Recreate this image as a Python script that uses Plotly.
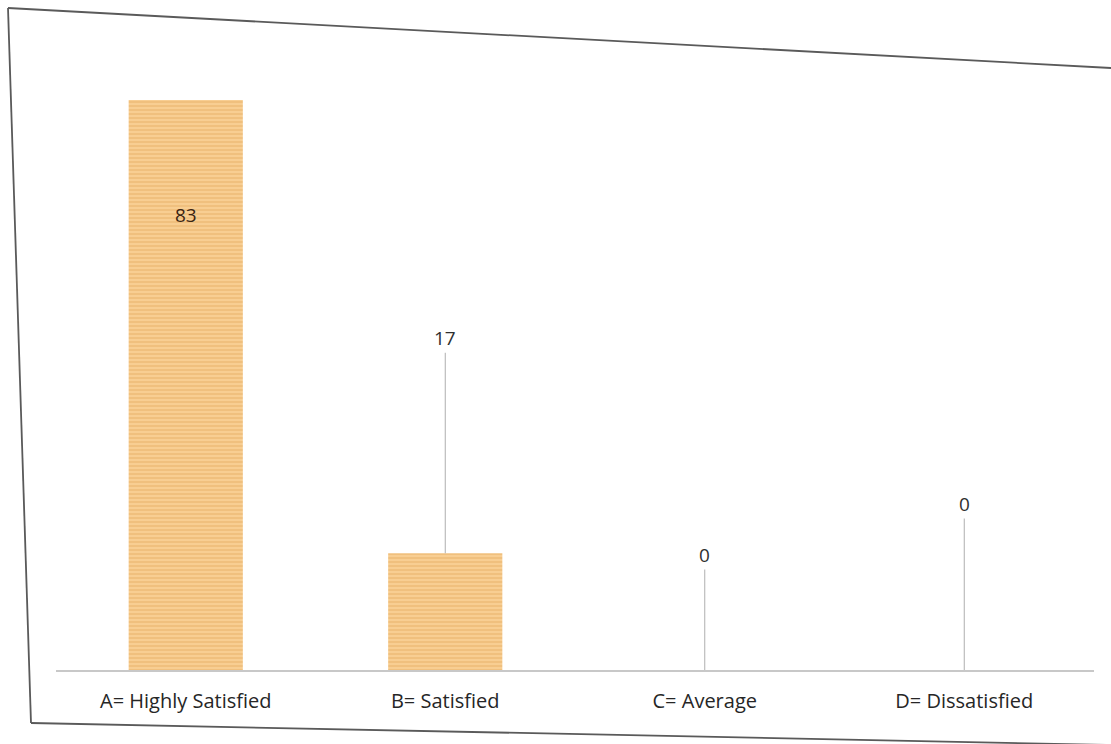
import plotly.graph_objects as go

categories = ["A= Highly Satisfied", "B= Satisfied", "C= Average", "D= Dissatisfied"]
values = [83, 17, 0, 0]
label_offsets = [-115, -215, -115, -166]  # pixel offsets of the data labels

W, H = 1111, 744
fig = go.Figure()
fig.add_trace(go.Bar(
    x=categories, y=values, width=0.44,
    marker=dict(color="#F8CE92",
                line=dict(color="#DDA45A", width=0),
                pattern=dict(shape="-", fgcolor="#E2A658", size=4, solidity=0.35, fillmode="overlay")),
    hoverinfo="skip", showlegend=False,
))

for i, (c, v) in enumerate(zip(categories, values)):
    if i == 0:
        fig.add_annotation(x=c, y=v, text=str(v), showarrow=False, yshift=label_offsets[i],
                           font=dict(family="Open Sans", size=19, color="#3a2412"))
    else:
        fig.add_annotation(x=c, y=v, text=str(v), showarrow=True, arrowhead=0, arrowwidth=1,
                           arrowcolor="#AFAFAF", ax=0, ay=label_offsets[i], standoff=0,
                           font=dict(family="Open Sans", size=19, color="#2f2f2f"))

# scanned page frame
frame = "#5a5a5a"
fig.add_shape(type="line", xref="paper", yref="paper", x0=8/W, y0=1-8/H, x1=1111/W, y1=1-68/H,
              line=dict(color=frame, width=1.8))
fig.add_shape(type="line", xref="paper", yref="paper", x0=8/W, y0=1-8/H, x1=31/W, y1=1-723/H,
              line=dict(color=frame, width=1.8))
fig.add_shape(type="line", xref="paper", yref="paper", x0=31/W, y0=1-723/H, x1=1111/W, y1=1-745/H,
              line=dict(color=frame, width=1.8))

fig.update_layout(
    width=W, height=H, margin=dict(l=0, r=0, t=0, b=0),
    paper_bgcolor="white", plot_bgcolor="white",
    xaxis=dict(domain=[56/W, 1094/W], showline=True, linecolor="#C8C8C8", linewidth=1.5,
               ticks="", showgrid=False, ticklabelstandoff=12,
               tickfont=dict(family="Open Sans", size=20, color="#262626")),
    yaxis=dict(domain=[(H-670)/H, (H-52)/H], range=[0, 90], visible=False, showgrid=False,
               zeroline=False),
)
fig.write_html("out.html", config={"displayModeBar": False},
               post_script="document.body.style.margin='0';document.body.style.overflow='hidden';")
